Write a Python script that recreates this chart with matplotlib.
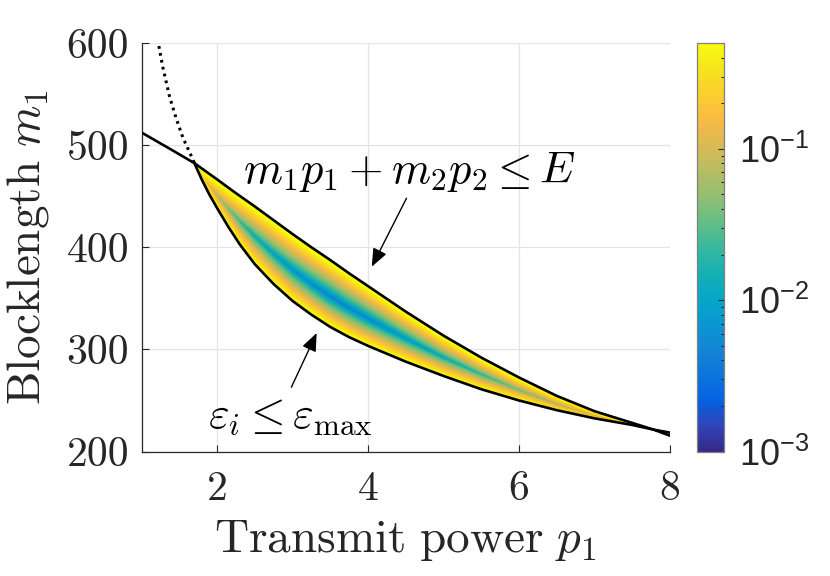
import numpy as np
import matplotlib
matplotlib.use("Agg")
import matplotlib.pyplot as plt
from matplotlib.colors import LinearSegmentedColormap, LogNorm
from matplotlib.ticker import LogLocator, NullFormatter, FixedLocator

plt.rcParams['mathtext.fontset'] = 'cm'
plt.rcParams['font.family'] = ['DejaVu Serif']

# ---------------- data ----------------
# energy constraint boundary  m1 p1 + m2 p2 <= E  (upper curve)
p_upper = [1.0, 1.35, 1.70, 2.0, 2.25, 2.5, 2.75, 3.0, 3.25, 3.5, 3.75, 4.0, 4.5,
           5.0, 5.5, 6.0, 6.5, 7.0, 7.5, 7.78, 8.0]
m_upper = [512.4, 497.5, 482.4, 466.5, 453, 440, 426.5, 413, 400, 387.5, 374.5, 362, 337,
           313.5, 292, 272.5, 254.5, 239.5, 228, 221.5, 215.5]

# error constraint boundary  eps_i <= eps_max  (lower curve, solid part)
p_lower = [1.70, 1.8, 1.9, 2.0, 2.15, 2.3, 2.5, 2.75, 3.0, 3.25, 3.5, 3.75, 4.0, 4.5,
           5.0, 5.5, 6.0, 6.5, 7.0, 7.5, 7.78, 8.0]
m_lower = [482.4, 466, 451.5, 438.5, 420, 403, 383.5, 364, 347.5, 334, 322, 312, 303.5, 288,
           274, 261, 250, 240.5, 232.5, 226, 221.5, 218.5]

# dotted continuation of the error boundary
p_dotted = [1.23, 1.28, 1.37, 1.46, 1.55, 1.64, 1.70]
m_dotted = [597, 577, 548, 526, 507, 492.5, 482.4]

# minimum error probability along the valley of the feasible region
p_ridge = [1.70, 1.85, 2.0, 2.25, 2.5, 3.0, 3.5, 4.0, 4.5, 5.0, 5.5, 6.0, 6.5, 7.0, 7.5, 7.78]
eps_ridge = [0.5, 0.2, 0.07, 0.025, 0.012, 0.006, 0.004, 0.0045, 0.007, 0.011,
             0.018, 0.035, 0.06, 0.12, 0.3, 0.5]
ridge_frac = [0.5, 0.5, 0.5, 0.5, 0.5, 0.48, 0.47, 0.47, 0.48, 0.48, 0.5, 0.5, 0.5, 0.5, 0.5, 0.5]
eps_edge = 0.7

x_ticks = [2, 4, 6, 8]
x_ticklabels = ['2', '4', '6', '8']
y_ticks = [200, 300, 400, 500, 600]
y_ticklabels = ['200', '300', '400', '500', '600']
cbar_ticks = [1e-3, 1e-2, 1e-1]
cbar_ticklabels = [r'$\mathregular{10^{-3}}$', r'$\mathregular{10^{-2}}$', r'$\mathregular{10^{-1}}$']
clim = (1e-3, 0.5)

# parula colormap samples
parula_colors = [
    (0.2081, 0.1663, 0.5292), (0.1959, 0.2645, 0.7279), (0.0117, 0.3875, 0.8820),
    (0.0498, 0.4586, 0.8641), (0.0793, 0.5200, 0.8312), (0.0343, 0.5966, 0.8199),
    (0.0228, 0.6535, 0.7768), (0.0843, 0.6928, 0.7062), (0.2178, 0.7250, 0.6193),
    (0.3953, 0.7459, 0.5244), (0.5709, 0.7485, 0.4494), (0.7184, 0.7411, 0.3905),
    (0.8507, 0.7299, 0.3360), (0.9739, 0.7314, 0.2666), (0.9880, 0.8066, 0.1794),
    (0.9589, 0.8949, 0.1132), (0.9763, 0.9831, 0.0538)]
parula = LinearSegmentedColormap.from_list('parula', parula_colors, N=256)

# ---------------- figure ----------------
fig = plt.figure(figsize=(8.30, 5.76), dpi=100)
ax = fig.add_axes([0.1705, 0.2161, 0.6367, 0.7092])
cax = fig.add_axes([0.8398, 0.2161, 0.0319, 0.7092])

# feasible-region field
pg = np.linspace(p_lower[0], p_ridge[-1], 500)
tg = np.linspace(0.0, 1.0, 241)[:, None]
lo = np.interp(pg, p_lower, m_lower)
hi = np.interp(pg, p_upper, m_upper)
P = np.broadcast_to(pg, (tg.shape[0], pg.size))
M = lo + tg * (hi - lo)
lmin = np.interp(pg, p_ridge, np.log10(eps_ridge))
t0 = np.interp(pg, p_ridge, ridge_frac)
d = np.where(tg < t0, (t0 - tg) / t0, (tg - t0) / (1 - t0))
logv = lmin + (np.log10(eps_edge) - lmin) * d ** 0.75
mesh = ax.pcolormesh(P, M, 10 ** logv, shading='gouraud', cmap=parula,
                     norm=LogNorm(*clim), zorder=2, rasterized=True)

ax.plot(p_upper, m_upper, color='black', lw=1.9, zorder=4, solid_joinstyle='round')
ax.plot(p_lower, m_lower, color='black', lw=1.9, zorder=4, solid_joinstyle='round')
ax.plot(p_dotted, m_dotted, color='black', lw=2.2, ls=(0, (0.9, 1.4)), zorder=4)

ax.set_xlim(1, 8)
ax.set_ylim(200, 600)
ax.set_xticks(x_ticks)
ax.set_xticklabels(x_ticklabels, fontfamily='cmr10')
ax.set_yticks(y_ticks)
ax.set_yticklabels(y_ticklabels, fontfamily='cmr10')
ax.grid(True, color='#e4e4e4', lw=0.9, zorder=0)
ax.set_axisbelow(True)
for s in ['top', 'right']:
    ax.spines[s].set_visible(False)
for s in ['left', 'bottom']:
    ax.spines[s].set_color('#262626')
    ax.spines[s].set_linewidth(0.9)
ax.tick_params(direction='in', length=5, width=0.8, color='#262626',
               labelsize=30, labelcolor='#262626')
ax.tick_params(axis='x', pad=14)
ax.tick_params(axis='y', pad=9)

ax.set_xlabel(r'$\mathrm{Transmit\ power}\ p_1$', fontsize=34, color='#262626')
ax.set_ylabel(r'$\mathrm{Blocklength}\ m_1$', fontsize=34, color='#262626')
ax.xaxis.set_label_coords(0.5, -0.217)
ax.xaxis.label.set_verticalalignment('center')
ax.yaxis.set_label_coords(-0.215, 0.5)
ax.yaxis.label.set_verticalalignment('center')

# annotations
arrow = dict(arrowstyle='-|>,head_length=1.1,head_width=0.45', color='black',
             lw=1.0, shrinkA=0, shrinkB=0)
ax.annotate('', xy=(4.05, 381), xytext=(4.51, 448), arrowprops=arrow, zorder=5)
ax.annotate('', xy=(3.32, 316), xytext=(2.985, 263), arrowprops=arrow, zorder=5)
ax.text(2.34, 463, r'$m_1p_1 + m_2p_2 \leq E$', fontsize=32, ha='left',
        va='baseline', zorder=6)
ax.text(1.875, 224, r'$\varepsilon_i \leq \varepsilon_{\max}$', fontsize=32,
        ha='left', va='baseline', zorder=6)

# colorbar
cb = fig.colorbar(mesh, cax=cax)
cb.outline.set_edgecolor('#808080')
cb.outline.set_linewidth(0.9)
cax.yaxis.set_major_locator(FixedLocator(cbar_ticks))
cax.yaxis.set_minor_locator(LogLocator(base=10, subs=np.arange(2, 10), numticks=20))
cax.yaxis.set_minor_formatter(NullFormatter())
cax.set_yticklabels(cbar_ticklabels)
cax.tick_params(which='both', direction='in', color='#262626', width=0.8,
                labelsize=26, labelcolor='#262626', pad=11)
cax.tick_params(which='major', length=4)
cax.tick_params(which='minor', length=2.5)
for lab in cax.get_yticklabels():
    lab.set_fontfamily('Liberation Sans')

fig.savefig('out.png', dpi=100)
